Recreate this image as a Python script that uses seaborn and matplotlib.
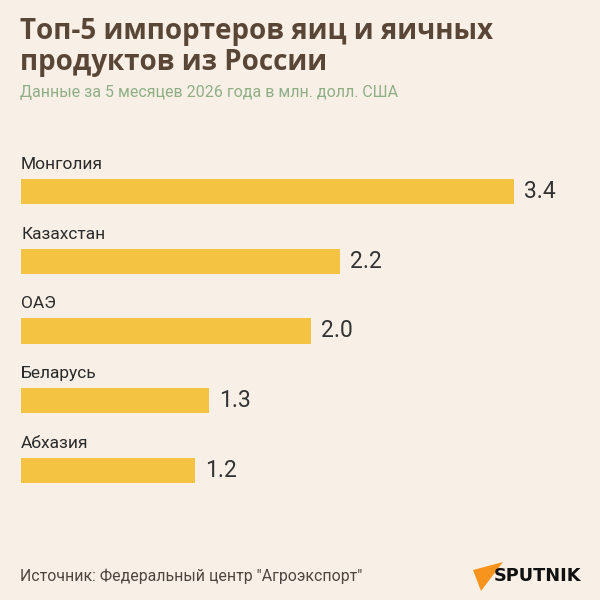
import matplotlib
matplotlib.use("Agg")
import matplotlib.pyplot as plt
import seaborn as sns
import pandas as pd
from matplotlib.patches import Polygon

countries = ["Монголия", "Казахстан", "ОАЭ", "Беларусь", "Абхазия"]
values = [3.4, 2.2, 2.0, 1.3, 1.2]
value_labels = ["3.4", "2.2", "2.0", "1.3", "1.2"]

title = "Топ-5 импортеров яиц и яичных\nпродуктов из России"
subtitle = "Данные за 5 месяцев 2026 года в млн. долл. США"
source = "Источник: Федеральный центр \"Агроэкспорт\""

BG = "#f8f0e6"
BAR = "#f5c342"

sns.set_theme(style="white")
plt.rcParams["font.family"] = ["Roboto", "DejaVu Sans"]

df = pd.DataFrame({"country": countries, "value": values})

fig = plt.figure(figsize=(6, 6), dpi=100)
fig.patch.set_facecolor(BG)

# axes: x from 21px to 600px, y from 140px to 500px
ax = fig.add_axes([21 / 600, 1 - 500 / 600, 579 / 600, 360 / 600])
ax.set_facecolor(BG)
sns.barplot(data=df, y="country", x="value", orient="h", color=BAR,
            width=0.36, saturation=1, linewidth=0, ax=ax)
ax.set_xlim(0, 579 / 145)
ax.set_ylim(4.423, -0.738)
ax.axis("off")

for i, (c, v, lab) in enumerate(zip(countries, values, value_labels)):
    ax.text(0, i - 0.39, c, ha="left", va="center", fontsize=12.5,
            color="#2b2b2b")
    ax.annotate(lab, xy=(v, i), xytext=(7, 0), textcoords="offset points",
                ha="left", va="center", fontsize=16.5, color="#333333")

fig.text(20 / 600, 1 - 47 / 600, title, ha="left", va="center",
         fontsize=20, fontweight="bold", color="#5a4636",
         linespacing=1.08, family=["Open Sans", "DejaVu Sans"])
fig.text(20 / 600, 1 - 93 / 600, subtitle, ha="left", va="center",
         fontsize=11.5, color="#8fae86")
fig.text(20 / 600, 1 - 576 / 600, source, ha="left", va="center",
         fontsize=11.4, color="#4f4540")

# Sputnik logo
tri = Polygon([[473 / 600, 1 - 570 / 600], [503 / 600, 1 - 562 / 600],
               [481 / 600, 1 - 591 / 600]], closed=True,
              transform=fig.transFigure, facecolor="#f7941d", edgecolor="none")
fig.patches.append(tri)
fig.text(494 / 600, 1 - 576 / 600, "SPUTNIK", ha="left", va="center",
         fontsize=12.8, fontweight="bold", color="#111111",
         family=["DejaVu Sans"])

fig.savefig("out.png", dpi=100, facecolor=BG)
